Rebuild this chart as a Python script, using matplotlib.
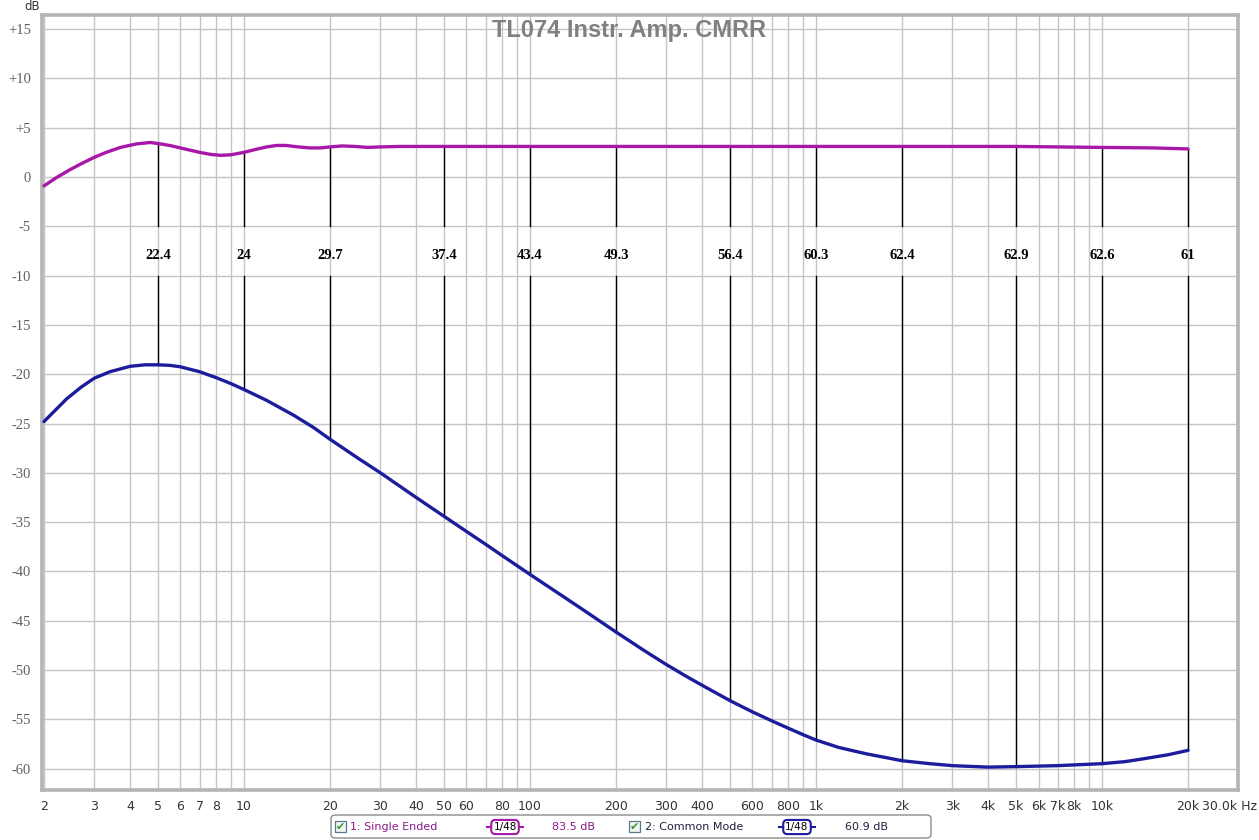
import numpy as np
import matplotlib
matplotlib.use("Agg")
import matplotlib.pyplot as plt
from matplotlib.lines import Line2D
from matplotlib.patches import FancyBboxPatch, Rectangle

# --- data ---
freq_se = [2, 2.2, 2.45, 2.7, 3.0, 3.3, 3.7, 4.2, 4.7, 5.0, 5.5, 6.2, 7.0, 7.7, 8.3, 9.0,
           10, 11, 12, 13, 14, 15.5, 17, 18.5, 20, 22, 24.5, 27, 30, 35, 50, 100, 200,
           500, 1000, 2000, 5000, 10000, 15000, 20000]
db_se = [-0.9, -0.1, 0.7, 1.35, 2.0, 2.5, 3.0, 3.35, 3.5, 3.4, 3.2, 2.85, 2.5, 2.28, 2.2,
         2.25, 2.5, 2.8, 3.05, 3.2, 3.2, 3.05, 2.95, 2.95, 3.05, 3.15, 3.1, 3.0, 3.05, 3.1,
         3.1, 3.1, 3.1, 3.1, 3.1, 3.1, 3.1, 3.0, 2.95, 2.85]

freq_cm = [2, 2.2, 2.4, 2.7, 3, 3.4, 4, 4.5, 5, 5.5, 6, 7, 8, 9, 10, 12, 15, 17.5, 20, 25,
           30, 40, 50, 60, 70, 80, 100, 150, 200, 250, 300, 350, 400, 500, 600, 700, 800,
           900, 1000, 1200, 1500, 2000, 2500, 3000, 4000, 5000, 7000, 10000, 12000, 14000,
           17000, 20000]
db_cm = [-24.8, -23.6, -22.5, -21.3, -20.4, -19.75, -19.2, -19.05, -19.05, -19.1, -19.25,
         -19.75, -20.35, -20.95, -21.55, -22.65, -24.2, -25.4, -26.6, -28.5, -30.0, -32.5,
         -34.4, -35.95, -37.25, -38.4, -40.3, -43.7, -46.15, -48.0, -49.45, -50.6, -51.55,
         -53.1, -54.25, -55.15, -55.9, -56.55, -57.1, -57.85, -58.5, -59.2, -59.5, -59.7,
         -59.85, -59.8, -59.7, -59.5, -59.3, -59.0, -58.6, -58.15]

marker_freq = [5, 10, 20, 50, 100, 200, 500, 1000, 2000, 5000, 10000, 20000]
marker_text = ["22.4", "24", "29.7", "37.4", "43.4", "49.3", "56.4", "60.3", "62.4",
               "62.9", "62.6", "61"]

xtick_vals = [2, 3, 4, 5, 6, 7, 8, 10, 20, 30, 40, 50, 60, 80, 100, 200, 300, 400, 600,
              800, 1000, 2000, 3000, 4000, 5000, 6000, 7000, 8000, 10000, 20000]
xtick_labels = ["2", "3", "4", "5", "6", "7", "8", "10", "20", "30", "40", "50", "60", "80",
                "100", "200", "300", "400", "600", "800", "1k", "2k", "3k", "4k", "5k",
                "6k", "7k", "8k", "10k", "20k"]
x_end_label = "30.0k Hz"
ytick_vals = list(range(15, -61, -5))
ytick_labels = ["+15", "+10", "+5", "0"] + [str(v) for v in ytick_vals[4:]]

W, H = 1259, 840
fig = plt.figure(figsize=(W / 100, H / 100), dpi=100)
fig.patch.set_facecolor("white")

def fx(px):
    return px / W

def fy(py):
    return 1 - py / H

L, R, T, B = 42, 1238, 15, 790
ax = fig.add_axes([fx(L), fy(B), fx(R - L), (B - T) / H])
ax.set_xscale("log")
ax.set_xlim(1.968, 29900)
ax.set_ylim(-62.17, 16.43)

# grid: every 1-9 multiple on x, every 5 dB on y
grid_x = [m * 10 ** e for e in range(0, 5) for m in range(1, 10)]
grid_x = [g for g in grid_x if 2 <= g <= 30000]
for g in grid_x:
    ax.axvline(g, color="#c4c4c4", lw=1.0, zorder=0)
for v in ytick_vals:
    ax.axhline(v, color="#c4c4c4", lw=1.0, zorder=0)

ax.plot(freq_se, db_se, color="#a818a8", lw=2.4, zorder=3, solid_capstyle="round",
        solid_joinstyle="round")
ax.plot(freq_cm, db_cm, color="#1c1c9c", lw=2.4, zorder=3, solid_capstyle="round",
        solid_joinstyle="round")

# CMRR markers
lf_se = np.log10(freq_se)
lf_cm = np.log10(freq_cm)
for f, t in zip(marker_freq, marker_text):
    top = np.interp(np.log10(f), lf_se, db_se)
    bot = np.interp(np.log10(f), lf_cm, db_cm)
    ax.plot([f, f], [top, -5], color="black", lw=1.0, zorder=2)
    ax.plot([f, f], [-10, bot], color="black", lw=1.0, zorder=2)
    ax.text(f, -8, t, ha="center", va="center", fontsize=10.5, fontweight="bold",
            family="Liberation Serif", color="black", zorder=4)

ax.set_xticks(xtick_vals)
ax.set_xticklabels(xtick_labels, family="DejaVu Sans", fontsize=9, color="#333333")
ax.set_xticks([], minor=True)
ax.set_yticks(ytick_vals)
ax.set_yticklabels(ytick_labels, family="Liberation Serif", fontsize=10.5, color="#606060")
ax.tick_params(axis="both", length=0)
ax.tick_params(axis="x", pad=7)
ax.tick_params(axis="y", pad=8)
for s in ax.spines.values():
    s.set_color("#b4b4b4")
    s.set_linewidth(2.6)

fig.text(fx(1257), fy(806), x_end_label, ha="right", va="center", fontsize=9,
         family="DejaVu Sans", color="#333333")

fig.text(fx(629), fy(30), "TL074 Instr. Amp. CMRR", ha="center", va="center",
         fontsize=17, fontweight="bold", family="Liberation Sans", color="#808080", zorder=5)
fig.text(fx(32), fy(6), "dB", ha="center", va="center", fontsize=8.5,
         family="DejaVu Sans", color="#333333")

# legend strip at the bottom
fig.add_artist(FancyBboxPatch((fx(331), fy(838)), fx(600), (838 - 815) / H,
                              boxstyle="round,pad=0,rounding_size=0.004",
                              transform=fig.transFigure, fc="white", ec="#8c8c8c", lw=1.0))
ly = fy(827)

def checkbox(px):
    fig.add_artist(Rectangle((fx(px - 5), fy(832)), fx(11), 11 / H, transform=fig.transFigure,
                             fc="#f4f4f4", ec="#5a7a8a", lw=0.9))
    fig.text(fx(px + 0.5), ly, "\u2714", ha="center", va="center", fontsize=8,
             family="DejaVu Sans", color="#2a9a2a")

def smooth_box(px, col):
    fig.add_artist(Line2D([fx(px - 18), fx(px + 18)], [ly, ly], color=col, lw=1.5,
                          transform=fig.transFigure))
    fig.text(fx(px), ly, "1/48", ha="center", va="center", fontsize=7.5,
             family="DejaVu Sans", color="black",
             bbox=dict(boxstyle="round,pad=0.2,rounding_size=0.4", fc="white", ec=col, lw=1.5))

checkbox(340)
fig.text(fx(350), ly, "1: Single Ended", ha="left", va="center", fontsize=8,
         family="DejaVu Sans", color="#8a1a8a")
smooth_box(505, "#a818a8")
fig.text(fx(552), ly, "83.5 dB", ha="left", va="center", fontsize=8,
         family="DejaVu Sans", color="#8a1a8a")
checkbox(634)
fig.text(fx(645), ly, "2: Common Mode", ha="left", va="center", fontsize=8,
         family="DejaVu Sans", color="#202040")
smooth_box(797, "#1c1c9c")
fig.text(fx(845), ly, "60.9 dB", ha="left", va="center", fontsize=8,
         family="DejaVu Sans", color="#202040")

fig.savefig("out.png", dpi=100)
